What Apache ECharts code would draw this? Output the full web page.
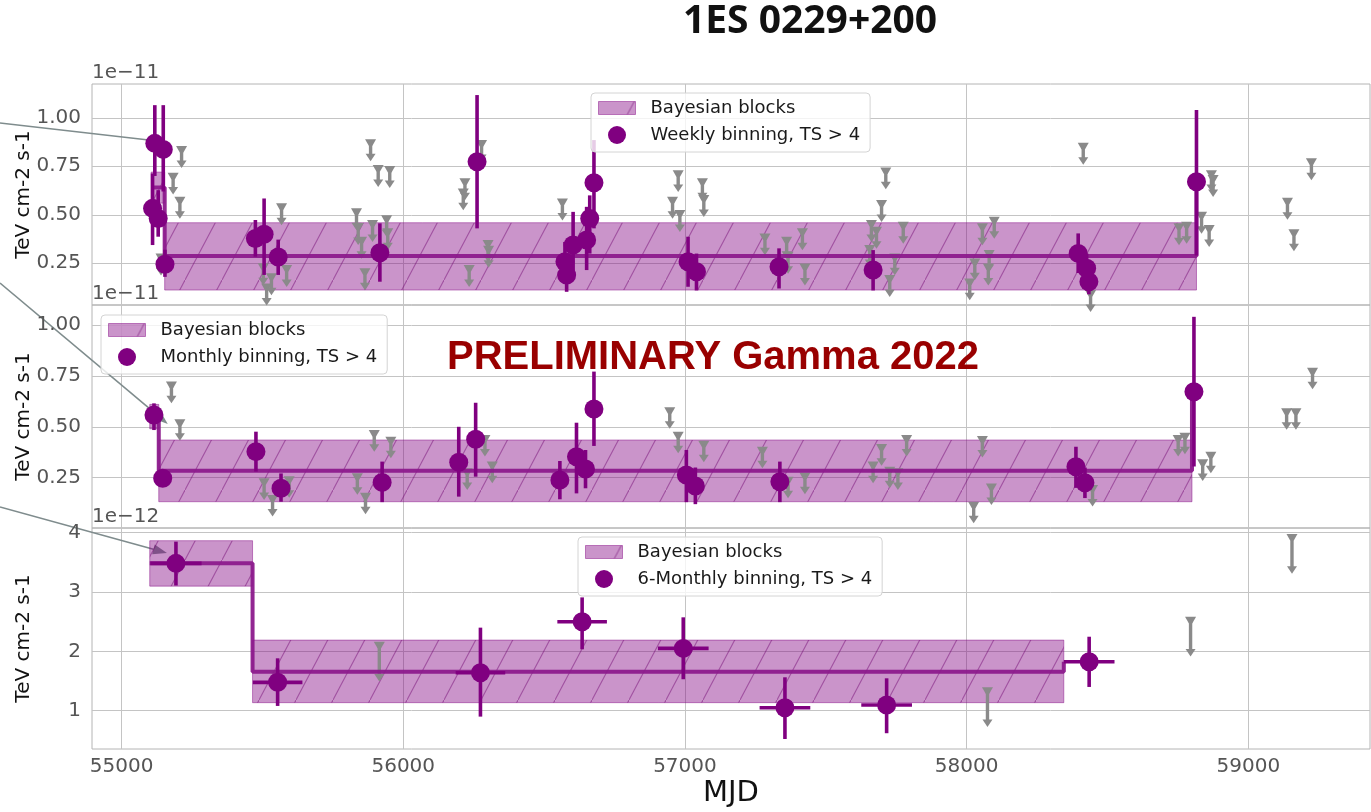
<!DOCTYPE html>
<html>
<head>
<meta charset="utf-8">
<title>1ES 0229+200 light curve</title>
<script src="https://cdn.jsdelivr.net/npm/echarts@6/dist/echarts.min.js"></script>
<style>
  html, body { margin: 0; padding: 0; background: #ffffff; }
  #chart { width: 1371px; height: 812px; }
</style>
</head>
<body>
<div id="chart"></div>
<script>
// ---------- axes ----------
const mjdRange = [54895, 59432];
const mjdTicks = [55000, 56000, 57000, 58000, 59000];
const fluxTicksE11 = [0.25, 0.5, 0.75, 1.0];
const fluxTicksE12 = [1, 2, 3, 4];
const weeklyRange = [0.035, 1.174];
const monthlyRange = [0.003, 1.098];
const sixMonthlyRange = [0.354, 4.08];

// ---------- weekly binning (flux in 1e-11 TeV cm-2 s-1) ----------
const weeklyMjd  = [55110, 55118, 55130, 55148, 55154, 55475, 55506, 55556, 55917, 56262,
                    56574, 56580, 56603, 56651, 56662, 56677, 57011, 57041, 57334, 57668,
                    58396, 58426, 58434, 58816];
const weeklyFlux = [0.533, 0.868, 0.481, 0.837, 0.245, 0.378, 0.400, 0.282, 0.304, 0.773,
                    0.258, 0.189, 0.344, 0.370, 0.481, 0.665, 0.258, 0.206, 0.232, 0.215,
                    0.301, 0.224, 0.155, 0.670];
const weeklyLow  = [0.344, 0.700, 0.387, 0.620, 0.180, 0.284, 0.190, 0.190, 0.155, 0.430,
                    0.150, 0.103, 0.200, 0.215, 0.300, 0.430, 0.129, 0.110, 0.120, 0.110,
                    0.200, 0.140, 0.090, 0.290];
const weeklyHigh = [0.713, 1.065, 0.627, 1.065, 0.320, 0.473, 0.584, 0.372, 0.456, 1.117,
                    0.360, 0.300, 0.515, 0.541, 0.600, 0.885, 0.387, 0.300, 0.327, 0.318,
                    0.404, 0.300, 0.220, 1.040];
const weeklyUlMjd = [55140, 55183, 55207, 55213, 55503, 55515, 55532, 55568, 55586, 55834,
                     55840, 55852, 55864, 55884, 55891, 55911, 55941, 55945, 55952, 56213,
                     56219, 56234, 56278, 56301, 56303, 56565, 56956, 56976, 56982, 57062,
                     57067, 57284, 57361, 57366, 57417, 57426, 57656, 57662, 57680, 57698,
                     57713, 57727, 57745, 57775, 58011, 58029, 58056, 58077, 58080, 58098,
                     58414, 58440, 58754, 58781, 58834, 58861, 58869, 58875, 59139, 59162,
                     59224];
const weeklyUl    = [0.300, 0.717, 0.593, 0.854, 0.250, 0.146, 0.198, 0.559, 0.241, 0.533,
                     0.457, 0.387, 0.224, 0.889, 0.473, 0.756, 0.498, 0.430, 0.751, 0.636,
                     0.688, 0.241, 0.885, 0.370, 0.340, 0.584, 0.593, 0.730, 0.524, 0.688,
                     0.602, 0.404, 0.387, 0.309, 0.430, 0.249, 0.344, 0.473, 0.438, 0.576,
                     0.744, 0.189, 0.301, 0.464, 0.172, 0.275, 0.456, 0.249, 0.318, 0.490,
                     0.871, 0.112, 0.456, 0.464, 0.515, 0.447, 0.730, 0.705, 0.588, 0.425,
                     0.791];
const weeklyBlockStart = [55105, 55153, 58816];
const weeklyBlockEnd   = [55153, 58816, 58816];
const weeklyBlockLevel = [0.640, 0.287, 0.670];
const weeklyBlockLow   = [0.560, 0.112, 0.670];
const weeklyBlockHigh  = [0.720, 0.459, 0.670];

// ---------- monthly binning (flux in 1e-11 TeV cm-2 s-1) ----------
const monthlyMjd  = [55115, 55146, 55477, 55566, 55925, 56197, 56257, 56556, 56615, 56647,
                     56677, 57005, 57037, 57337, 58388, 58420, 58807];
const monthlyFlux = [0.558, 0.247, 0.378, 0.198, 0.227, 0.326, 0.439, 0.239, 0.353, 0.293,
                     0.587, 0.263, 0.209, 0.230, 0.304, 0.225, 0.672];
const monthlyLow  = [0.484, 0.215, 0.280, 0.132, 0.130, 0.157, 0.255, 0.144, 0.173, 0.198,
                     0.406, 0.130, 0.120, 0.130, 0.200, 0.150, 0.305];
const monthlyHigh = [0.615, 0.280, 0.476, 0.271, 0.329, 0.500, 0.618, 0.332, 0.520, 0.386,
                     0.771, 0.386, 0.300, 0.329, 0.402, 0.300, 1.040];
const monthlyUlMjd = [55177, 55207, 55506, 55536, 55595, 55837, 55866, 55897, 55956, 56227,
                      56290, 56316, 56946, 56976, 57067, 57275, 57366, 57426, 57668, 57698,
                      57727, 57756, 57787, 58025, 58056, 58088, 58447, 58751, 58775, 58838,
                      58867, 59136, 59169, 59228];
const monthlyUl    = [0.722, 0.537, 0.247, 0.165, 0.257, 0.272, 0.176, 0.484, 0.451, 0.296,
                      0.460, 0.329, 0.596, 0.476, 0.432, 0.402, 0.255, 0.275, 0.329, 0.415,
                      0.304, 0.296, 0.460, 0.132, 0.455, 0.222, 0.214, 0.460, 0.471, 0.340,
                      0.378, 0.591, 0.591, 0.790];
const monthlyBlockStart = [55100, 55132, 58800];
const monthlyBlockEnd   = [55132, 58800, 58800];
const monthlyBlockLevel = [0.558, 0.284, 0.672];
const monthlyBlockLow   = [0.490, 0.132, 0.672];
const monthlyBlockHigh  = [0.610, 0.435, 0.672];

// ---------- 6-monthly binning (flux in 1e-12 TeV cm-2 s-1) ----------
const sixMonthlyMjd   = [55193, 55554, 56274, 56635, 56994, 57355, 57716, 58435];
const sixMonthlyFlux  = [3.484, 1.478, 1.640, 2.500, 2.050, 1.050, 1.096, 1.826];
const sixMonthlyLow   = [3.110, 1.080, 0.900, 2.035, 1.530, 0.523, 0.620, 1.400];
const sixMonthlyHigh  = [3.850, 1.883, 2.400, 2.910, 2.574, 1.563, 1.546, 2.247];
const sixMonthlyHalfBin = [91, 88, 88, 88, 90, 90, 90, 90];
const sixMonthlyUlMjd = [55915, 58074, 58795, 59155];
const sixMonthlyUl    = [2.163, 1.394, 2.584, 3.978];
const sixMonthlyBlockStart = [55100, 55465, 58345];
const sixMonthlyBlockEnd   = [55465, 58345, 58345];
const sixMonthlyBlockLevel = [3.484, 1.657, 1.826];
const sixMonthlyBlockLow   = [3.100, 1.135, 1.826];
const sixMonthlyBlockHigh  = [3.866, 2.190, 1.826];

// arrows pointing at the first flux state of each panel
const arrowTipMjd  = [55161, 55164, 55161];
const arrowTipFlux = [0.875, 0.514, 3.658];
const arrowStartY  = [123, 283, 507];

// ---------- styling ----------
const FONT = 'DejaVu Sans';
const PURPLE = '#800080';
const STEP = '#8c1a8c';
const GRAY = '#8a8a8a';
const ulLength = [0.113, 0.106, 0.67];

// diagonal hatch used for the Bayesian-block bands
function makeHatch() {
  const w = 37, h = 70;
  const c = document.createElement('canvas');
  c.width = w; c.height = h;
  const ctx = c.getContext('2d');
  ctx.fillStyle = 'rgba(128,0,128,0.42)';
  ctx.fillRect(0, 0, w, h);
  ctx.strokeStyle = 'rgba(110,0,110,0.45)';
  ctx.lineWidth = 1.1;
  ctx.beginPath();
  ctx.moveTo(-w * 0.5, h * 1.5);
  ctx.lineTo(w * 1.5, -h * 0.5);
  ctx.stroke();
  return { image: c, repeat: 'repeat' };
}
const hatch = makeHatch();

const grids = [
  { left: 92, right: 1, top: 84, height: 221 },
  { left: 92, right: 1, top: 305, height: 223 },
  { left: 92, right: 1, top: 528, height: 221 }
].map(g => Object.assign(g, { show: true, borderColor: '#b4b4b4', borderWidth: 1, backgroundColor: 'transparent' }));

const panels = [
  { range: weeklyRange, ticks: fluxTicksE11, exp: '1e\u221211', fmt: v => v.toFixed(2) },
  { range: monthlyRange, ticks: fluxTicksE11, exp: '1e\u221211', fmt: v => v.toFixed(2) },
  { range: sixMonthlyRange, ticks: fluxTicksE12, exp: '1e\u221212', fmt: v => String(Math.round(v)) }
];

const xAxes = panels.map((p, i) => ({
  type: 'value', gridIndex: i, min: mjdRange[0], max: mjdRange[1],
  axisLine: { show: false },
  axisTick: { show: false, customValues: mjdTicks },
  axisLabel: { show: i === 2, customValues: mjdTicks, formatter: v => String(Math.round(v)),
               fontFamily: FONT, fontSize: 20, color: '#555555', margin: 8 },
  splitLine: { show: true, lineStyle: { color: '#c4c4c4', width: 1 } },
  name: i === 2 ? 'MJD' : '', nameLocation: 'middle', nameGap: 30, nameMoveOverlap: false,
  nameTextStyle: { fontFamily: FONT, fontSize: 29, color: '#111111' }
}));

const yAxes = [];
panels.forEach((p, i) => {
  yAxes.push({
    type: 'value', gridIndex: i, min: p.range[0], max: p.range[1],
    axisLine: { show: false },
    axisTick: { show: false, customValues: p.ticks },
    axisLabel: { customValues: p.ticks, formatter: p.fmt, fontFamily: FONT, fontSize: 20, color: '#555555', margin: 11 },
    splitLine: { show: true, lineStyle: { color: '#c4c4c4', width: 1 } },
    name: 'TeV cm-2 s-1', nameLocation: 'middle', nameGap: 58, nameRotate: 90, nameMoveOverlap: false,
    nameTextStyle: { fontFamily: FONT, fontSize: 20, color: '#111111' }
  });
  yAxes.push({
    type: 'value', gridIndex: i, min: p.range[0], max: p.range[1], position: 'left',
    axisLine: { show: false }, axisTick: { show: false }, axisLabel: { show: false }, splitLine: { show: false },
    name: p.exp, nameLocation: 'end', nameGap: 1, nameMoveOverlap: false,
    nameTextStyle: { fontFamily: FONT, fontSize: 20, color: '#555555', align: 'left', verticalAlign: 'bottom' }
  });
});

function bandSeries(i, start, end, low, high) {
  const data = [];
  start.forEach((s, k) => { if (high[k] > low[k]) data.push([s, end[k], low[k], high[k]]); });
  return {
    type: 'custom', name: 'Bayesian blocks', xAxisIndex: i, yAxisIndex: 2 * i, z: 1,
    itemStyle: { color: '#c994c9' },
    encode: { x: [0, 1], y: [2, 3] },
    data,
    renderItem(params, api) {
      const a = api.coord([api.value(0), api.value(3)]);
      const b = api.coord([api.value(1), api.value(2)]);
      return {
        type: 'rect',
        shape: { x: a[0], y: a[1], width: b[0] - a[0], height: b[1] - a[1] },
        style: { fill: hatch, stroke: 'rgba(128,0,128,0.45)', lineWidth: 1 }
      };
    }
  };
}

function stepSeries(i, start, end, level) {
  const data = [];
  start.forEach((s, k) => { data.push([s, level[k]]); data.push([end[k], level[k]]); });
  return {
    type: 'line', name: 'block level', xAxisIndex: i, yAxisIndex: 2 * i, z: 3,
    symbol: 'none', silent: true,
    lineStyle: { color: STEP, width: 4, opacity: 0.95 },
    data
  };
}

function ulSeries(i, mjd, ul) {
  const len = ulLength[i];
  return {
    type: 'custom', name: 'upper limits', xAxisIndex: i, yAxisIndex: 2 * i, z: 2, silent: true,
    encode: { x: 0, y: 1 },
    data: mjd.map((m, k) => [m, ul[k]]),
    renderItem(params, api) {
      const top = api.coord([api.value(0), api.value(1)]);
      const bot = api.coord([api.value(0), api.value(1) - len]);
      const x = top[0], y0 = top[1], y1 = bot[1];
      return {
        type: 'group',
        children: [
          { type: 'polygon', shape: { points: [[x - 5.5, y0], [x + 5.5, y0], [x + 1.8, y0 + 6.5], [x - 1.8, y0 + 6.5]] }, style: { fill: GRAY } },
          { type: 'line', shape: { x1: x, y1: y0 + 4, x2: x, y2: y1 - 6 }, style: { stroke: GRAY, lineWidth: 3.4 } },
          { type: 'polygon', shape: { points: [[x - 5, y1 - 7.5], [x + 5, y1 - 7.5], [x, y1]] }, style: { fill: GRAY } }
        ]
      };
    }
  };
}

function errorSeries(i, mjd, low, high, flux, halfBin) {
  return {
    type: 'custom', name: 'errors', xAxisIndex: i, yAxisIndex: 2 * i, z: 4, silent: true,
    encode: { x: 0, y: [1, 2] },
    data: mjd.map((m, k) => [m, low[k], high[k], flux[k], halfBin ? halfBin[k] : 0]),
    renderItem(params, api) {
      const x = api.value(0);
      const a = api.coord([x, api.value(1)]);
      const b = api.coord([x, api.value(2)]);
      const children = [
        { type: 'line', shape: { x1: a[0], y1: a[1], x2: b[0], y2: b[1] }, style: { stroke: PURPLE, lineWidth: 3.6 } }
      ];
      const hb = api.value(4);
      if (hb) {
        const c = api.coord([x - hb, api.value(3)]);
        const d = api.coord([x + hb, api.value(3)]);
        children.push({ type: 'line', shape: { x1: c[0], y1: c[1], x2: d[0], y2: d[1] }, style: { stroke: PURPLE, lineWidth: 3.6 } });
      }
      return { type: 'group', children };
    }
  };
}

function pointSeries(i, name, mjd, flux) {
  return {
    type: 'scatter', name, xAxisIndex: i, yAxisIndex: 2 * i, z: 5,
    symbol: 'circle', symbolSize: 19, symbolKeepAspect: true,
    itemStyle: { color: PURPLE, opacity: 1 },
    data: mjd.map((m, k) => [m, flux[k]])
  };
}

const pointNames = ['Weekly binning, TS > 4', 'Monthly binning, TS > 4', '6-Monthly binning, TS > 4'];

const series = [
  bandSeries(0, weeklyBlockStart, weeklyBlockEnd, weeklyBlockLow, weeklyBlockHigh),
  ulSeries(0, weeklyUlMjd, weeklyUl),
  stepSeries(0, weeklyBlockStart, weeklyBlockEnd, weeklyBlockLevel),
  errorSeries(0, weeklyMjd, weeklyLow, weeklyHigh, weeklyFlux, null),
  pointSeries(0, pointNames[0], weeklyMjd, weeklyFlux),

  bandSeries(1, monthlyBlockStart, monthlyBlockEnd, monthlyBlockLow, monthlyBlockHigh),
  ulSeries(1, monthlyUlMjd, monthlyUl),
  stepSeries(1, monthlyBlockStart, monthlyBlockEnd, monthlyBlockLevel),
  errorSeries(1, monthlyMjd, monthlyLow, monthlyHigh, monthlyFlux, null),
  pointSeries(1, pointNames[1], monthlyMjd, monthlyFlux),

  bandSeries(2, sixMonthlyBlockStart, sixMonthlyBlockEnd, sixMonthlyBlockLow, sixMonthlyBlockHigh),
  ulSeries(2, sixMonthlyUlMjd, sixMonthlyUl),
  stepSeries(2, sixMonthlyBlockStart, sixMonthlyBlockEnd, sixMonthlyBlockLevel),
  errorSeries(2, sixMonthlyMjd, sixMonthlyLow, sixMonthlyHigh, sixMonthlyFlux, sixMonthlyHalfBin),
  pointSeries(2, pointNames[2], sixMonthlyMjd, sixMonthlyFlux)
];

const legendPos = [[591, 93], [101, 315], [578, 537]];
const legends = legendPos.map((pos, i) => ({
  left: pos[0], top: pos[1], orient: 'vertical', z: 10, selectedMode: false,
  backgroundColor: 'rgba(255,255,255,0.8)', borderColor: '#d4d4d4', borderWidth: 1, borderRadius: 4,
  padding: [5, 10, 7, 7], itemWidth: 37, itemHeight: 18, itemGap: 7,
  textStyle: { fontFamily: FONT, fontSize: 18, color: '#1a1a1a', lineHeight: 20, padding: [0, 0, 0, 10] },
  data: [
    { name: 'Bayesian blocks', icon: 'path://M0,0H37V13H0Z',
      itemStyle: { color: hatch, borderColor: 'rgba(128,0,128,0.45)', borderWidth: 1 } },
    { name: pointNames[i], icon: 'circle', itemStyle: { color: PURPLE } }
  ]
}));

const chart = echarts.init(document.getElementById('chart'), null, { renderer: 'canvas' });
chart.setOption({
  animation: false,
  backgroundColor: '#ffffff',
  title: [
    { text: '1ES 0229+200', left: 810, top: 0, textAlign: 'center', padding: 0,
      textStyle: { fontFamily: 'Open Sans', fontWeight: 'bold', fontSize: 39, color: '#111111', lineHeight: 44 } },
    { text: 'PRELIMINARY Gamma 2022', left: 713, top: 337, textAlign: 'center', padding: 0, z: 9,
      textStyle: { fontFamily: 'Liberation Sans', fontWeight: 'bold', fontSize: 40, color: '#990000', lineHeight: 42 } }
  ],
  grid: grids,
  xAxis: xAxes,
  yAxis: yAxes,
  legend: legends,
  series
});

// annotation arrows entering from the left edge
const arrows = arrowTipMjd.map((m, i) => {
  const tip = chart.convertToPixel({ xAxisIndex: i, yAxisIndex: 2 * i }, [m, arrowTipFlux[i]]);
  const sx = 0, sy = arrowStartY[i];
  const dx = tip[0] - sx, dy = tip[1] - sy;
  const L = Math.sqrt(dx * dx + dy * dy);
  const ux = dx / L, uy = dy / L;
  const head = 14, half = 5;
  const bx = tip[0] - ux * head, by = tip[1] - uy * head;
  return {
    type: 'group', z: 20, silent: true,
    children: [
      { type: 'line', shape: { x1: sx, y1: sy, x2: bx, y2: by }, style: { stroke: '#7f8c8d', lineWidth: 1.6 } },
      { type: 'polygon', shape: { points: [[tip[0], tip[1]], [bx - uy * half, by + ux * half], [bx + uy * half, by - ux * half]] },
        style: { fill: '#7f8c8d' } }
    ]
  };
});
chart.setOption({ graphic: arrows });
</script>
</body>
</html>
